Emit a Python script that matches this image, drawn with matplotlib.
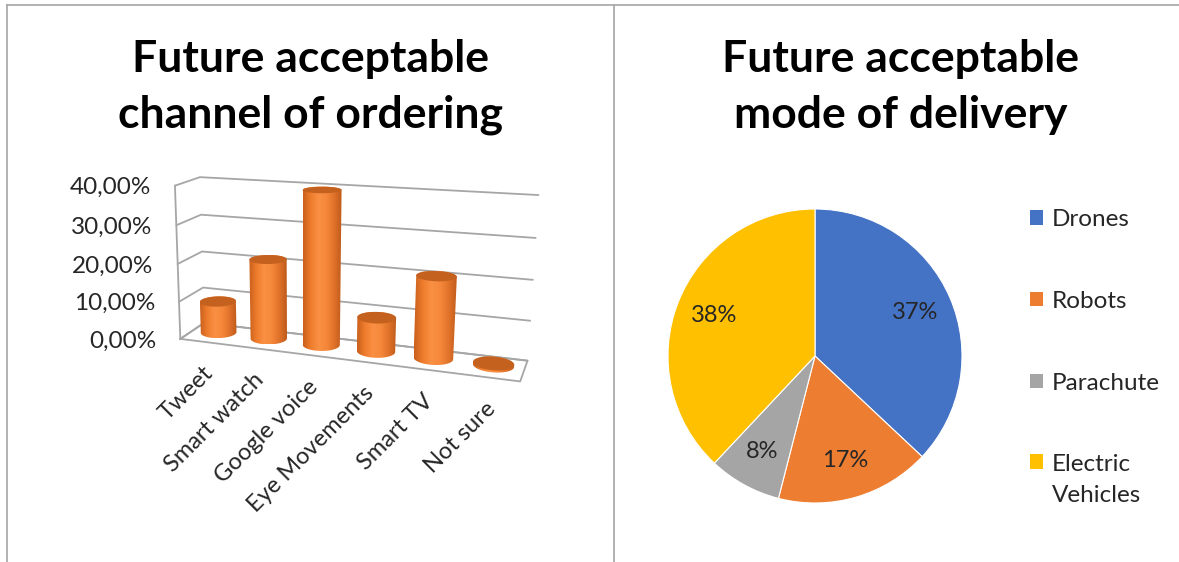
import numpy as np
import matplotlib
matplotlib.use("Agg")
import matplotlib.pyplot as plt
from matplotlib.patches import Polygon, Patch
from matplotlib.colors import LinearSegmentedColormap

# ---- data ----
channels = ["Tweet", "Smart watch", "Google voice", "Eye Movements", "Smart TV", "Not sure"]
channel_share = [8.5, 21.0, 39.5, 8.7, 20.5, 0.5]   # percent
share_ticks = [0, 10, 20, 30, 40]

modes = ["Drones", "Robots", "Parachute", "Electric\nVehicles"]
mode_share = [37, 17, 8, 38]
mode_colors = ["#4472C4", "#ED7D31", "#A5A5A5", "#FFC000"]

plt.rcParams['font.family'] = ['Lato', 'DejaVu Sans']
TEXT = "#262626"
GRID = "#A6A6A6"

W, H = 1179, 562
fig = plt.figure(figsize=(W / 100, H / 100), dpi=100)
canvas = fig.add_axes([0, 0, 1, 1])
canvas.set_xlim(0, W)
canvas.set_ylim(H, 0)
canvas.set_autoscale_on(False)
canvas.axis('off')

# page frame: top rule, left rule, divider between the two charts
canvas.plot([7, W], [5, 5], color=GRID, lw=1.2)
canvas.plot([7, 7], [5, H], color=GRID, lw=1.2)
canvas.plot([614, 614], [5, H], color=GRID, lw=1.2)

# ---- 3-D view: world x = category slot (0..6), y = depth (0 front, 1 back), z = value / 10 ----
# where the corners of the box sit in the picture, used to fit a perspective camera
view_world = np.array([
    (0, 1, 0), (0, 1, 2), (0, 1, 4),
    (6, 1, 0), (6, 1, 2), (6, 1, 4),
    (0, 0, 0), (0, 0, 2), (0, 0, 4),
    (6, 0, 0),
], dtype=float)
view_pix = np.array([
    (202, 323), (202, 252), (202, 177),
    (528, 360), (533, 280), (538, 195),
    (182, 338), (178, 265), (173, 185),
    (520, 382),
], dtype=float)


def fit_camera(world, pix):
    rows = []
    for (X, Y, Z), (u, v) in zip(world, pix / 100.0):
        rows.append([X, Y, Z, 1, 0, 0, 0, 0, -u * X, -u * Y, -u * Z, -u])
        rows.append([0, 0, 0, 0, X, Y, Z, 1, -v * X, -v * Y, -v * Z, -v])
    _, _, vt = np.linalg.svd(np.array(rows))
    return vt[-1].reshape(3, 4)


P = fit_camera(view_world, view_pix)


def project(x, y, z):
    x, y, z = np.broadcast_arrays(np.asarray(x, float), np.asarray(y, float), np.asarray(z, float))
    h = P @ np.vstack([x.ravel(), y.ravel(), z.ravel(), np.ones(x.size)])
    return h[0] / h[2] * 100, h[1] / h[2] * 100


def hull(px, py):
    pts = sorted(set(zip(np.round(px, 2), np.round(py, 2))))

    def cross(o, a, b):
        return (a[0] - o[0]) * (b[1] - o[1]) - (a[1] - o[1]) * (b[0] - o[0])
    lower, upper = [], []
    for p in pts:
        while len(lower) >= 2 and cross(lower[-2], lower[-1], p) <= 0:
            lower.pop()
        lower.append(p)
    for p in reversed(pts):
        while len(upper) >= 2 and cross(upper[-2], upper[-1], p) <= 0:
            upper.pop()
        upper.append(p)
    return np.array(lower[:-1] + upper[:-1])


n_cat = len(channels)
zmax = share_ticks[-1] / 10

# left wall and back wall grid
for v in share_ticks:
    z = v / 10
    gx, gy = project([0, 0, n_cat], [0, 1, 1], z)
    canvas.plot(gx, gy, color=GRID, lw=1.3, solid_capstyle='round', zorder=1)
# front left edge
gx, gy = project(0, 0, [0, zmax])
canvas.plot(gx, gy, color=GRID, lw=1.3, zorder=1)
# floor
gx, gy = project([0, n_cat, n_cat, 0, 0], [0, 0, 1, 1, 0], 0)
canvas.plot(gx, gy, color=GRID, lw=1.3, zorder=1)

# value labels along the front edge
for v in share_ticks:
    lx, ly = project(0, 0, v / 10)
    canvas.text(lx[0] - 24, ly[0] + 2, f"{v:.2f}%".replace(".", ","), ha='right', va='center',
                fontsize=17.5, color=TEXT)

# category labels below the floor
for i, name in enumerate(channels):
    lx, ly = project(i + 0.5, 0, 0)
    canvas.text(lx[0] + 4, ly[0] + 28, name, rotation=45, rotation_mode='anchor',
                ha='right', va='center', fontsize=17, color=TEXT)

# cylinders
body_cmap = LinearSegmentedColormap.from_list(
    "cyl", ["#C9601D", "#EE7C2C", "#FA9044", "#F5883A", "#E0722A", "#BE5A1B"])
gradient = np.linspace(0, 1, 256).reshape(1, -1)
theta = np.linspace(0, 2 * np.pi, 160)
radius, depth = 0.33, 0.58
for i, val in enumerate(channel_share):
    ex = i + 0.5 + radius * np.cos(theta)
    ey = depth + radius * np.sin(theta)
    bx, by = project(ex, ey, 0)
    tx, ty = project(ex, ey, val / 10)
    outline = hull(np.concatenate([bx, tx]), np.concatenate([by, ty]))
    body = Polygon(outline, closed=True, facecolor='none', edgecolor='none')
    canvas.add_patch(body)
    im = canvas.imshow(gradient, cmap=body_cmap, aspect='auto', interpolation='bilinear',
                       extent=(outline[:, 0].min(), outline[:, 0].max(),
                               outline[:, 1].max(), outline[:, 1].min()), zorder=3)
    im.set_clip_path(body)
    canvas.add_patch(Polygon(np.column_stack([tx, ty]), closed=True,
                             facecolor="#C5611F", edgecolor='none', zorder=4))

canvas.set_xlim(0, W)
canvas.set_ylim(H, 0)

# titles
title_kw = dict(ha='center', va='center', fontsize=32, fontweight='bold', color='black',
                linespacing=1.48)
fig.text(310 / W, 1 - 87 / H, "Future acceptable\nchannel of ordering", **title_kw)
fig.text(901 / W, 1 - 87 / H, "Future acceptable\nmode of delivery", **title_kw)

# ---- pie ----
cx, cy, r = 815, 356, 147
pie_ax = fig.add_axes([(cx - r) / W, 1 - (cy + r) / H, 2 * r / W, 2 * r / H])
wedges, _, autotexts = pie_ax.pie(
    mode_share, colors=mode_colors, startangle=90, counterclock=False,
    autopct=lambda p: f"{p:.0f}%", pctdistance=0.74,
    wedgeprops=dict(edgecolor='white', linewidth=0.8),
    textprops=dict(fontsize=17, color=TEXT))
pie_ax.set_xlim(-1, 1)
pie_ax.set_ylim(-1, 1)

leg = fig.legend(handles=[Patch(facecolor=c, label=m) for c, m in zip(mode_colors, modes)],
                 loc='upper left', bbox_to_anchor=(1030 / W, 1 - 209 / H), frameon=False,
                 fontsize=17.5, handlelength=0.53, handleheight=0.53, handletextpad=0.37,
                 labelspacing=2.5, borderpad=0, borderaxespad=0, labelcolor=TEXT)
for t in leg.get_texts():
    t.set_linespacing(1.6)
# keep the swatch level with the first line of a two-line entry
for col in leg._legend_handle_box.get_children():
    for item, label in zip(col.get_children(), modes):
        if "\n" in label:
            item.align = 'top'

fig.savefig("out.png", dpi=100)
